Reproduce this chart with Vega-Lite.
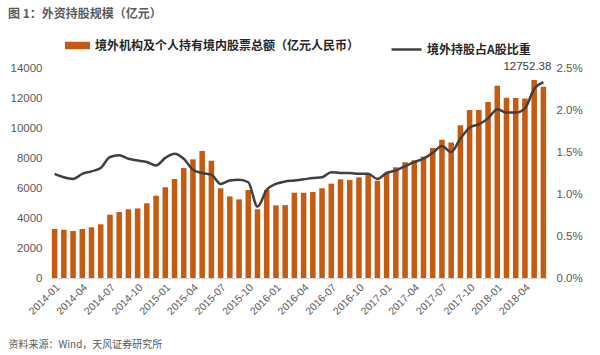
{
  "$schema": "https://vega.github.io/schema/vega-lite/v6.json",
  "autosize": {"type": "none"},
  "width": 498,
  "height": 210,
  "padding": {"left": 50, "top": 68, "right": 52, "bottom": 77},
  "background": "white",
  "config": {"view": {"stroke": null}},
  "title": {
    "text": "图 1：外资持股规模（亿元）",
    "anchor": "start",
    "frame": "group",
    "dx": -42,
    "dy": -8,
    "font": "Noto Sans CJK SC",
    "fontSize": 12,
    "fontWeight": "bold",
    "color": "#595959"
  },
  "data": {"values": [
    {"m": "2014-01", "v": 3270, "r": 0.0124},
    {"m": "2014-02", "v": 3220, "r": 0.0120},
    {"m": "2014-03", "v": 3130, "r": 0.0118},
    {"m": "2014-04", "v": 3270, "r": 0.0124},
    {"m": "2014-05", "v": 3380, "r": 0.0127},
    {"m": "2014-06", "v": 3580, "r": 0.0131},
    {"m": "2014-07", "v": 4220, "r": 0.0144},
    {"m": "2014-08", "v": 4400, "r": 0.0146},
    {"m": "2014-09", "v": 4580, "r": 0.0142},
    {"m": "2014-10", "v": 4640, "r": 0.0140},
    {"m": "2014-11", "v": 4980, "r": 0.0138},
    {"m": "2014-12", "v": 5490, "r": 0.0134},
    {"m": "2015-01", "v": 6050, "r": 0.0143},
    {"m": "2015-02", "v": 6600, "r": 0.0148},
    {"m": "2015-03", "v": 7330, "r": 0.0142},
    {"m": "2015-04", "v": 7910, "r": 0.0129},
    {"m": "2015-05", "v": 8470, "r": 0.0125},
    {"m": "2015-06", "v": 7820, "r": 0.0123},
    {"m": "2015-07", "v": 5980, "r": 0.0112},
    {"m": "2015-08", "v": 5440, "r": 0.0116},
    {"m": "2015-09", "v": 5240, "r": 0.0117},
    {"m": "2015-10", "v": 5870, "r": 0.0114},
    {"m": "2015-11", "v": 4580, "r": 0.0085},
    {"m": "2015-12", "v": 5870, "r": 0.0105},
    {"m": "2016-01", "v": 4840, "r": 0.0112},
    {"m": "2016-02", "v": 4860, "r": 0.0115},
    {"m": "2016-03", "v": 5690, "r": 0.0116},
    {"m": "2016-04", "v": 5690, "r": 0.01175},
    {"m": "2016-05", "v": 5730, "r": 0.0119},
    {"m": "2016-06", "v": 5980, "r": 0.0120},
    {"m": "2016-07", "v": 6290, "r": 0.0126},
    {"m": "2016-08", "v": 6580, "r": 0.0125},
    {"m": "2016-09", "v": 6530, "r": 0.0125},
    {"m": "2016-10", "v": 6710, "r": 0.0124},
    {"m": "2016-11", "v": 6930, "r": 0.0124},
    {"m": "2016-12", "v": 6490, "r": 0.0118},
    {"m": "2017-01", "v": 6980, "r": 0.0125},
    {"m": "2017-02", "v": 7380, "r": 0.0128},
    {"m": "2017-03", "v": 7720, "r": 0.0133},
    {"m": "2017-04", "v": 7850, "r": 0.0138},
    {"m": "2017-05", "v": 8090, "r": 0.0142},
    {"m": "2017-06", "v": 8670, "r": 0.0149},
    {"m": "2017-07", "v": 9220, "r": 0.0157},
    {"m": "2017-08", "v": 9040, "r": 0.0150},
    {"m": "2017-09", "v": 10180, "r": 0.0166},
    {"m": "2017-10", "v": 11200, "r": 0.0179},
    {"m": "2017-11", "v": 11200, "r": 0.0183},
    {"m": "2017-12", "v": 11730, "r": 0.0190},
    {"m": "2018-01", "v": 12820, "r": 0.0201},
    {"m": "2018-02", "v": 12020, "r": 0.0197},
    {"m": "2018-03", "v": 12000, "r": 0.0197},
    {"m": "2018-04", "v": 11960, "r": 0.0202},
    {"m": "2018-05", "v": 13200, "r": 0.0225},
    {"m": "2018-06", "v": 12752.38, "r": 0.0233}
  ]},
  "encoding": {
    "x": {
      "field": "m", "type": "ordinal", "sort": null,
      "scale": {"paddingInner": 0.4, "paddingOuter": 0.2},
      "axis": {
        "title": "资料来源：Wind，天风证券研究所",
        "titleFont": "Noto Sans CJK SC",
        "titleFontSize": 10,
        "titleFontWeight": "normal",
        "titleColor": "#595959",
        "titleAnchor": "start",
        "titleAlign": "left",
        "titleBaseline": "middle",
        "titleX": -42,
        "titleY": 66,
        "labelExpr": "indexof(['01','04','07','10'], slice(datum.value, 5)) >= 0 ? datum.value : ''",
        "labelAngle": -45,
        "labelFont": "Liberation Sans",
        "labelFontSize": 10.5,
        "labelColor": "#595959",
        "labelPadding": 4,
        "labelOverlap": false,
        "ticks": false,
        "domainColor": "#d9d9d9",
        "grid": false
      }
    }
  },
  "layer": [
    {
      "mark": {"type": "bar"},
      "encoding": {
        "y": {
          "field": "v", "type": "quantitative",
          "scale": {"domain": [0, 14000], "nice": false},
          "axis": {
            "title": null,
            "values": [0, 2000, 4000, 6000, 8000, 10000, 12000, 14000],
            "format": "d",
            "labelFont": "Liberation Sans",
            "labelFontSize": 11.5,
            "labelColor": "#595959",
            "labelPadding": 8,
            "labelOverlap": false,
            "labelFlush": false,
            "ticks": false,
            "domain": false,
            "grid": false
          }
        },
        "fill": {
          "datum": "境外机构及个人持有境内股票总额（亿元人民币）",
          "type": "nominal",
          "scale": {"range": ["#C55A11"]},
          "legend": {
            "title": null,
            "orient": "none",
            "legendX": 15,
            "legendY": -35,
            "symbolType": "M-1,-0.3h2v0.6h-2z",
            "symbolSize": 625,
            "symbolStrokeWidth": 0,
            "labelOffset": 5,
            "labelFont": "Noto Sans CJK SC",
            "labelFontSize": 12,
            "labelFontWeight": "bold",
            "labelColor": "#262626",
            "labelLimit": 400
          }
        }
      }
    },
    {
      "transform": [{"filter": "datum.m == '2018-06'"}],
      "mark": {"type": "text", "dx": -16, "dy": -20, "font": "Liberation Sans", "fontSize": 11.5, "color": "#404040"},
      "encoding": {
        "y": {"field": "v", "type": "quantitative", "scale": {"domain": [0, 14000], "nice": false}, "axis": null},
        "text": {"field": "v", "type": "quantitative", "format": ".2f"}
      }
    },
    {
      "mark": {"type": "line", "strokeWidth": 2.5, "interpolate": "monotone"},
      "encoding": {
        "y": {
          "field": "r", "type": "quantitative",
          "scale": {"domain": [0, 0.025], "nice": false},
          "axis": {
            "orient": "right",
            "title": null,
            "values": [0, 0.005, 0.01, 0.015, 0.02, 0.025],
            "format": ".1%",
            "labelFont": "Liberation Sans",
            "labelFontSize": 11.5,
            "labelColor": "#595959",
            "labelPadding": 8,
            "labelOverlap": false,
            "labelFlush": false,
            "ticks": false,
            "domain": false,
            "grid": false
          }
        },
        "stroke": {
          "datum": "境外持股占A股比重",
          "type": "nominal",
          "scale": {"range": ["#404040"]},
          "legend": {
            "title": null,
            "orient": "none",
            "legendX": 340,
            "legendY": -35,
            "symbolType": "stroke",
            "symbolSize": 900,
            "symbolStrokeWidth": 2.5,
            "labelFont": "Noto Sans CJK SC",
            "labelFontSize": 12,
            "labelFontWeight": "bold",
            "labelColor": "#262626",
            "labelLimit": 300
          }
        }
      }
    }
  ],
  "resolve": {"scale": {"y": "independent"}}
}
